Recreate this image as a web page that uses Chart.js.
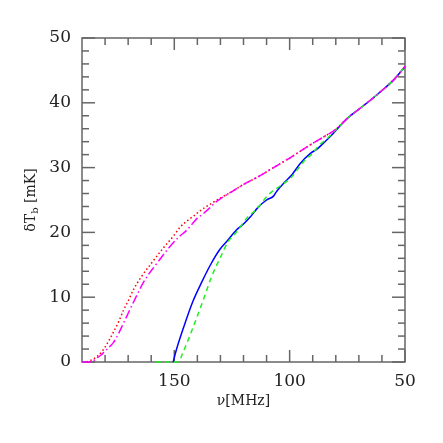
<!DOCTYPE html>
<html>
<head>
<meta charset="utf-8">
<script src="https://cdn.jsdelivr.net/npm/chart.js@4/dist/chart.umd.min.js"></script>
<style>
    body { margin: 0; background: #fff; }
    canvas { display: block; }
</style>
</head>
<body>
<canvas id="chart" width="443" height="443"></canvas>
<script>
// frequency axis (MHz) runs backwards, from high to low
const xMajorTicks = [150, 100, 50];
const xMinorTicks = [180, 170, 160, 140, 130, 120, 110, 90, 80, 70, 60];
const yMajorTicks = [0, 10, 20, 30, 40, 50];
const yMinorTicks = [2, 4, 6, 8, 12, 14, 16, 18, 22, 24, 26, 28, 32, 34, 36, 38, 42, 44, 46, 48];

// dotted red
const redNu = [188, 186, 183, 180.8, 178.5, 176.4, 174, 172, 170, 167.8, 164, 160, 155, 150, 147.5, 144, 141, 138.9,
    136, 130.5, 125, 120, 113.6, 107, 99, 92, 85, 80, 75, 70, 65, 60, 55, 50];
const redT = [0, 0.3, 1.0, 1.9, 3.2, 4.6, 6.3, 8.0, 9.4, 11.1, 13.3, 15.2, 17.5, 19.6, 20.8, 21.9, 22.7, 23.3,
    24.0, 25.2, 26.3, 27.4, 28.6, 30.0, 31.7, 33.3, 34.8, 35.9, 37.6, 39.0, 40.4, 41.9, 43.5, 45.6];

// dash-dot magenta
const magentaNu = [190, 186, 184, 182, 180.5, 178.5, 176.4, 174, 172, 168, 162.7, 158, 152.6, 148, 145, 143.2, 141.5,
    140, 137.4, 134, 131.6, 130, 125, 120, 113.6, 107, 99, 92, 85, 80, 75, 70, 65, 60, 55, 50];
const magentaT = [0, 0, 0.5, 1.0, 1.5, 2.2, 3.0, 4.5, 6.0, 9.0, 12.7, 15.0, 17.5, 19.3, 20.2, 20.9, 21.6,
    22.2, 22.9, 24.0, 24.8, 25.2, 26.3, 27.4, 28.6, 30.0, 31.7, 33.3, 34.8, 35.9, 37.6, 39.0, 40.4, 41.9, 43.5, 45.6];

// solid blue
const blueNu = [150.5, 149, 146.1, 142, 138, 134, 130.2, 127, 123, 120, 117, 113.6, 110, 107, 105.5, 102, 99, 95.5,
    91, 88, 84.7, 80.5, 78, 75, 70, 65, 60, 55, 50];
const blueT = [0, 2.0, 5.2, 9.3, 12.4, 15.2, 17.4, 18.7, 20.4, 21.3, 22.4, 23.9, 25.0, 25.6, 26.4, 27.8, 28.9, 30.6,
    32.2, 32.9, 34.0, 35.5, 36.5, 37.6, 39.0, 40.4, 41.9, 43.5, 45.6];

// dashed green
const greenNu = [158, 148.3, 146.1, 141.8, 137.4, 133.8, 130.2, 126.6, 122.9, 118.6, 114.3, 109.2, 104, 99.8, 96,
    93.3, 90, 87.6, 84, 80, 75, 70, 65, 60, 55, 50];
const greenT = [0, 0, 1.6, 5.4, 9.6, 13.2, 16.0, 18.6, 20.1, 22.2, 23.6, 25.8, 27.2, 28.3, 30.0,
    31.2, 32.2, 33.3, 34.4, 35.8, 37.6, 39.0, 40.4, 41.9, 43.5, 45.6];

const FRAME = '#666';
const SERIF = '"DejaVu Serif", serif';

function toPoints(xs, ys) {
    return xs.map((x, i) => ({x: x, y: ys[i]}));
}

function makeSet(xs, ys, color, dash) {
    return {
        data: toPoints(xs, ys),
        borderColor: color,
        borderWidth: 1.5,
        borderDash: dash,
        pointRadius: 0,
        cubicInterpolationMode: 'monotone',
        clip: 4,
        fill: false
    };
}

// frame and inward ticks on all sides, drawn under the curves
const framePlugin = {
    id: 'frame',
    beforeDatasetsDraw(chart) {
        const ctx = chart.ctx;
        const a = chart.chartArea;
        const xs = chart.scales.x;
        const ys = chart.scales.y;

        ctx.save();
        ctx.strokeStyle = FRAME;
        ctx.lineWidth = 1.5;
        ctx.strokeRect(a.left, a.top, a.right - a.left, a.bottom - a.top);

        const tick = (x1, y1, x2, y2) => {
            ctx.beginPath();
            ctx.moveTo(x1, y1);
            ctx.lineTo(x2, y2);
            ctx.stroke();
        };

        [[xMajorTicks, 12], [xMinorTicks, 7]].forEach(([vals, len]) => {
            vals.forEach((v) => {
                const px = xs.getPixelForValue(v);
                tick(px, a.bottom, px, a.bottom - len);
                tick(px, a.top, px, a.top + len);
            });
        });
        [[yMajorTicks, 13], [yMinorTicks, 7]].forEach(([vals, len]) => {
            vals.forEach((v) => {
                const py = ys.getPixelForValue(v);
                tick(a.left, py, a.left + len, py);
                tick(a.right, py, a.right - len, py);
            });
        });
        ctx.restore();
    },
    afterDraw(chart) {
        const ctx = chart.ctx;
        const a = chart.chartArea;

        ctx.save();
        ctx.fillStyle = '#222';
        ctx.textBaseline = 'middle';

        // x title
        ctx.font = '14px ' + SERIF;
        ctx.textAlign = 'center';
        ctx.fillText('\u03bd[MHz]', (a.left + a.right) / 2, 401);

        // y title, rotated, with subscript
        ctx.translate(31, (a.top + a.bottom) / 2);
        ctx.rotate(-Math.PI / 2);
        const main = '\u03b4T';
        const sub = 'b';
        const rest = ' [mK]';
        ctx.font = '14px ' + SERIF;
        const w1 = ctx.measureText(main).width;
        const w3 = ctx.measureText(rest).width;
        ctx.font = '10px ' + SERIF;
        const w2 = ctx.measureText(sub).width;
        const x0 = -(w1 + w2 + w3) / 2;
        ctx.textAlign = 'left';
        ctx.font = '14px ' + SERIF;
        ctx.fillText(main, x0, 0);
        ctx.font = '10px ' + SERIF;
        ctx.fillText(sub, x0 + w1, 4);
        ctx.font = '14px ' + SERIF;
        ctx.fillText(rest, x0 + w1 + w2, 0);
        ctx.restore();
    }
};

new Chart(document.getElementById('chart'), {
    type: 'line',
    data: {
        datasets: [
            makeSet(magentaNu, magentaT, '#ff00ff', [9, 3, 1.5, 3]),
            makeSet(greenNu, greenT, '#22ee22', [5, 4]),
            makeSet(blueNu, blueT, '#0000ff', []),
            makeSet(redNu, redT, '#ff0000', [1.5, 2.5])
        ]
    },
    options: {
        responsive: false,
        animation: false,
        layout: {padding: {left: 0, top: 38, right: 38, bottom: 0}},
        plugins: {legend: {display: false}, tooltip: {enabled: false}},
        scales: {
            x: {
                type: 'linear',
                reverse: true,
                min: 50,
                max: 190,
                grid: {display: false, drawTicks: false},
                border: {display: false},
                afterBuildTicks: (scale) => {
                    scale.ticks = xMajorTicks.map((v) => ({value: v}));
                },
                afterFit: (scale) => { scale.height = 81; },
                ticks: {
                    color: '#222',
                    padding: 9,
                    maxRotation: 0,
                    font: {family: SERIF, size: 17}
                }
            },
            y: {
                type: 'linear',
                min: 0,
                max: 50,
                grid: {display: false, drawTicks: false},
                border: {display: false},
                afterBuildTicks: (scale) => {
                    scale.ticks = yMajorTicks.map((v) => ({value: v}));
                },
                afterFit: (scale) => { scale.width = 82; },
                ticks: {
                    color: '#222',
                    padding: 11,
                    font: {family: SERIF, size: 17}
                }
            }
        }
    },
    plugins: [framePlugin]
});
</script>
</body>
</html>
